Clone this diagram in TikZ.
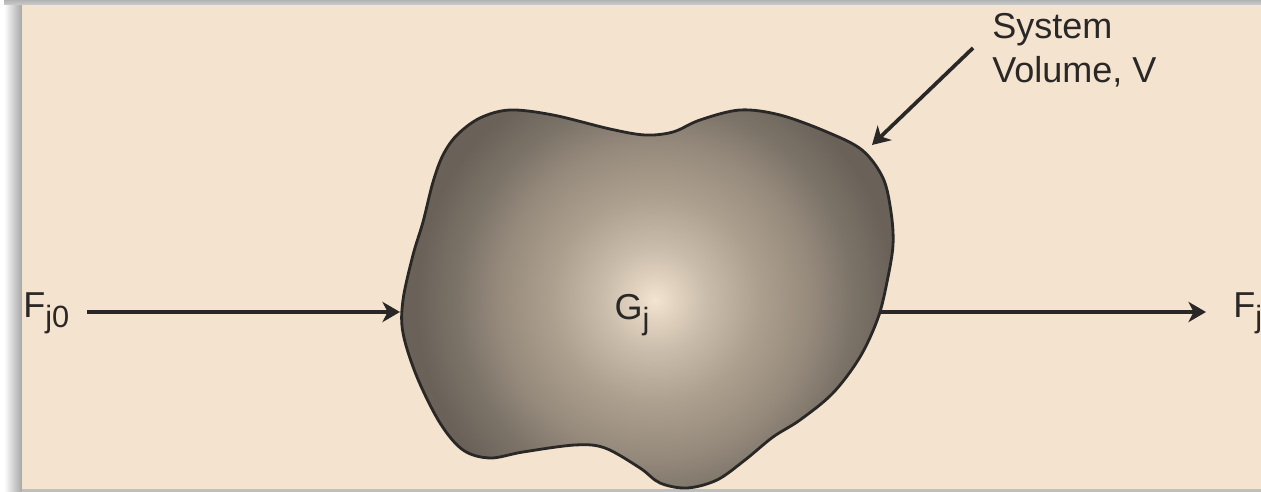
\documentclass[tikz,border=0pt]{standalone}
\usepackage{fontspec}
\setmainfont{Liberation Sans}
\usetikzlibrary{arrows.meta,calc,positioning}
\definecolor{PanelBeige}{HTML}{F4E3CF}
\definecolor{InkDark}{HTML}{2A2826}
\pgfdeclareradialshading{blobshade}{\pgfpoint{0bp}{0bp}}{%
  color(0bp)=(rgb,255:red,243;green,228;blue,209);
  color(2bp)=(rgb,255:red,226;green,211;blue,192);
  color(5bp)=(rgb,255:red,201;green,188;blue,170);
  color(10bp)=(rgb,255:red,172;green,159;blue,142);
  color(15bp)=(rgb,255:red,150;green,138;blue,124);
  color(19bp)=(rgb,255:red,124;green,115;blue,104);
  color(23bp)=(rgb,255:red,106;green,98;blue,89);
  color(50bp)=(rgb,255:red,101;green,93;blue,84)}
\newcommand{\lowsub}[1]{\raisebox{-5.5pt}{\fontsize{17.5}{17.5}\selectfont #1}}
\def\blobpath{plot[smooth cycle,tension=0.55] coordinates {
    (510,110) (553,115) (610,129) (645,135) (673,132) (700,120)
    (740,110) (780,115) (827,132) (862,150) (883,178) (891,212)
    (893,245) (887,282) (878,318) (860,357) (833,393) (800,420)
    (773,437) (745,460) (717,480) (687,488) (660,483) (640,468)
    (605,448) (575,445) (523,452) (490,458) (463,450) (440,423)
    (417,377) (403,333) (403,300) (413,255) (423,222) (433,182)
    (443,155) (457,135) (480,118)}}

\begin{document}
\begin{tikzpicture}[x=0.02cm,y=-0.02cm,
    label/.style={text=InkDark,font=\fontsize{20.5}{25}\selectfont,inner sep=0pt},
    flow/.style={-{Stealth[length=10pt,width=11.5pt,inset=3pt]},line width=2.1pt,color=InkDark}
  ]
    \useasboundingbox (0,0) rectangle (1261,492);
    % frame with shadow
    \fill[white] (0,0) rectangle (1261,492);
    \shade[left color=white,right color=black!35] (4,5) rectangle (22,492);
    \shade[top color=black!30,bottom color=black!20] (4,0) rectangle (1261,5);
    \fill[black!25] (22,489) rectangle (1261,492);
    \fill[PanelBeige] (22,5) rectangle (1261,489);

    % system volume
    \begin{scope}
      \clip \blobpath;
      \shade[shading=blobshade] (395,40) rectangle (915,560);
    \end{scope}
    \draw[InkDark,line width=1.6pt] \blobpath;
    \coordinate (inlet) at (400,312);
    \coordinate (outlet) at (880,312);
    \coordinate (rim) at (872,145);

    \node[label,anchor=base] (gen) at (632,320) {G\lowsub{j}};
    \node[label,anchor=base west] (feed) at (23,318) {F\lowsub{j0}};
    \node[label,anchor=base west] (exit) at (1233,318) {F\lowsub{j}};
    \node[label,anchor=north west,align=left] (sysvol) at (992,13) {System\\Volume, V};
    \coordinate (tail) at (973,48);

    \draw[flow] (87,312) -- (inlet);
    \draw[flow] (outlet) -- (1206,312);
    \draw[flow] (tail) -- (rim);
  \end{tikzpicture}
\end{document}
